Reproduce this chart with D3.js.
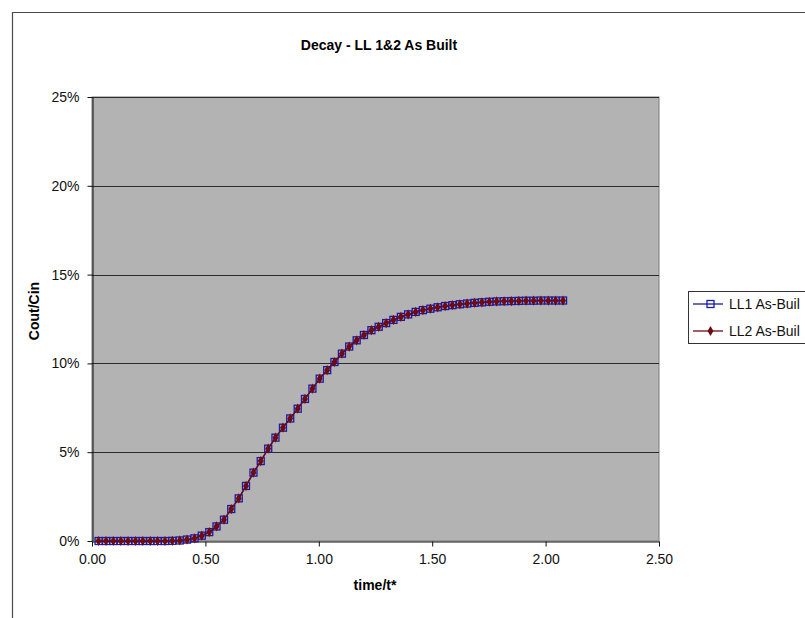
<!DOCTYPE html>
<html>
<head>
<meta charset="utf-8">
<script src="https://cdn.jsdelivr.net/npm/d3@7"></script>
<style>
  body { margin: 0; background: #fff; }
  svg { display: block; font-family: "Liberation Sans", Arial, sans-serif; }
</style>
</head>
<body>
<div class="chart"></div>
<script>
const WIDTH = 805
const HEIGHT = 618
const TITLE = "Decay - LL 1&2 As Built"
const X_LABEL = "time/t*"
const Y_LABEL = "Cout/Cin"
const X_TICKS = [0, 0.5, 1.0, 1.5, 2.0, 2.5]
const Y_TICKS = [0, 0.05, 0.10, 0.15, 0.20, 0.25]
// legend names as they show in the picture (cut at the edge)
const SERIES_NAMES = ["LL1 As-Buil", "LL2 As-Buil"]

// time/t* for every sample
const TIME = [0.029, 0.062, 0.094, 0.127, 0.159, 0.192, 0.224, 0.257, 0.289, 0.322,
  0.354, 0.387, 0.419, 0.452, 0.484, 0.517, 0.549, 0.582, 0.614, 0.647,
  0.679, 0.712, 0.744, 0.777, 0.809, 0.842, 0.874, 0.907, 0.939, 0.972,
  1.004, 1.037, 1.069, 1.102, 1.134, 1.167, 1.199, 1.232, 1.264, 1.297,
  1.329, 1.362, 1.394, 1.427, 1.459, 1.492, 1.524, 1.557, 1.589, 1.622,
  1.654, 1.687, 1.719, 1.752, 1.784, 1.817, 1.849, 1.882, 1.914, 1.947,
  1.979, 2.012, 2.044, 2.077]

// Cout/Cin in percent
const LL1 = [0, 0, 0, 0, 0, 0, 0, 0, 0, 0,
  0.01, 0.03, 0.08, 0.15, 0.30, 0.50, 0.82, 1.20, 1.80, 2.40,
  3.10, 3.85, 4.50, 5.20, 5.82, 6.38, 6.90, 7.45, 8.00, 8.58,
  9.14, 9.62, 10.08, 10.55, 10.95, 11.30, 11.60, 11.87, 12.06, 12.27,
  12.45, 12.62, 12.76, 12.90, 13.00, 13.08, 13.16, 13.23, 13.28, 13.33,
  13.37, 13.41, 13.44, 13.47, 13.49, 13.50, 13.51, 13.52, 13.53, 13.53,
  13.54, 13.54, 13.54, 13.54]
const LL2 = [0, 0, 0, 0, 0, 0, 0, 0, 0, 0,
  0.01, 0.03, 0.08, 0.15, 0.30, 0.50, 0.82, 1.20, 1.80, 2.40,
  3.10, 3.85, 4.50, 5.20, 5.82, 6.38, 6.90, 7.45, 8.00, 8.58,
  9.14, 9.62, 10.08, 10.55, 10.95, 11.30, 11.60, 11.87, 12.06, 12.27,
  12.45, 12.62, 12.76, 12.90, 13.00, 13.08, 13.16, 13.23, 13.28, 13.33,
  13.37, 13.41, 13.44, 13.47, 13.49, 13.50, 13.51, 13.52, 13.53, 13.53,
  13.54, 13.54, 13.54, 13.54]

const PLOT = { left: 92, right: 659, top: 97, bottom: 541 }
const BLUE = "#1a1aa8"
const RED = "#6e0a14"

const svg = d3.select(".chart").append("svg").attr("width", WIDTH).attr("height", HEIGHT)

// chart frame
svg.append("path").attr("d", `M12.5,${HEIGHT} V12.5 H${WIDTH}`)
  .attr("fill", "none").attr("stroke", "#4a4a4a").attr("stroke-width", 1.2)

// title
svg.append("text").attr("x", 379).attr("y", 50).attr("text-anchor", "middle")
  .attr("font-size", 14).attr("font-weight", "bold").text(TITLE)

let xScale = d3.scaleLinear().domain([0, 2.5]).range([PLOT.left, PLOT.right])
let yScale = d3.scaleLinear().domain([0, 0.25]).range([PLOT.bottom, PLOT.top])

// plot area
svg.append("rect").attr("x", PLOT.left).attr("y", PLOT.top)
  .attr("width", PLOT.right - PLOT.left).attr("height", PLOT.bottom - PLOT.top)
  .attr("fill", "#b3b3b3").attr("stroke", "#7a7a7a")

// gridlines
svg.append("g").selectAll("line").data(Y_TICKS.slice(1)).join("line")
  .attr("x1", PLOT.left).attr("x2", PLOT.right)
  .attr("y1", d => Math.round(yScale(d)) + 0.5).attr("y2", d => Math.round(yScale(d)) + 0.5)
  .attr("stroke", "#2b2b2b")

// x axis
let bottomAxis = d3.axisBottom(xScale).tickValues(X_TICKS).tickFormat(d3.format(".2f")).tickSize(5).tickSizeOuter(0)
let xAxis = svg.append("g").attr("transform", `translate(0, ${PLOT.bottom + 0.5})`).call(bottomAxis)
xAxis.selectAll("text").attr("font-size", 14).attr("dy", "1.05em").attr("fill", "#111")

// y axis
let leftAxis = d3.axisLeft(yScale).tickValues(Y_TICKS).tickFormat(d3.format(".0%")).tickSize(5).tickSizeOuter(0)
let yAxis = svg.append("g").attr("transform", `translate(${PLOT.left + 0.5}, 0)`).call(leftAxis)
yAxis.selectAll("text").attr("font-size", 14).attr("x", -13).attr("fill", "#111")

svg.selectAll(".domain, .tick line").attr("stroke", "#111")
svg.selectAll(".tick text").attr("font-family", "'Liberation Sans', Arial, sans-serif")

// axis titles
svg.append("text").attr("x", 375).attr("y", 590).attr("text-anchor", "middle")
  .attr("font-size", 14).attr("font-weight", "bold").text(X_LABEL)
svg.append("text").attr("transform", `translate(39, 311) rotate(-90)`).attr("text-anchor", "middle")
  .attr("font-size", 14).attr("font-weight", "bold").text(Y_LABEL)

// series
let line = d3.line().x(d => xScale(d[0])).y(d => yScale(d[1] / 100))
let ll1 = TIME.map((t, i) => [t, LL1[i]])
let ll2 = TIME.map((t, i) => [t, LL2[i]])

svg.append("path").datum(ll1).attr("d", line).attr("fill", "none").attr("stroke", BLUE).attr("stroke-width", 1.3)
svg.append("g").selectAll("rect").data(ll1).join("rect")
  .attr("x", d => xScale(d[0]) - 3.5).attr("y", d => yScale(d[1] / 100) - 3.5)
  .attr("width", 7).attr("height", 7).attr("fill", "none").attr("stroke", BLUE).attr("stroke-width", 1.3)

let diamond = d3.symbol().type(d3.symbolDiamond).size(30)
svg.append("path").datum(ll2).attr("d", line).attr("fill", "none").attr("stroke", RED).attr("stroke-width", 1.3)
svg.append("g").selectAll("path").data(ll2).join("path")
  .attr("transform", d => `translate(${xScale(d[0])}, ${yScale(d[1] / 100)})`)
  .attr("d", diamond).attr("fill", RED)

// legend
let legend = svg.append("g")
legend.append("rect").attr("x", 688.5).attr("y", 291.5).attr("width", 130).attr("height", 52)
  .attr("fill", "#fff").attr("stroke", "#333")
let rows = [[SERIES_NAMES[0], BLUE, 304], [SERIES_NAMES[1], RED, 331]]
for (let [name, color, y] of rows) {
  legend.append("line").attr("x1", 693).attr("x2", 723).attr("y1", y).attr("y2", y)
    .attr("stroke", color).attr("stroke-width", 1.3)
  if (color === BLUE) {
    legend.append("rect").attr("x", 707).attr("y", y - 3.5).attr("width", 7).attr("height", 7)
      .attr("fill", "none").attr("stroke", BLUE).attr("stroke-width", 1.3)
  } else {
    legend.append("path").attr("transform", `translate(710.5, ${y})`).attr("d", diamond).attr("fill", RED)
  }
  legend.append("text").attr("x", 729).attr("y", y).attr("dy", "0.35em")
    .attr("font-size", 14).attr("fill", "#111").text(name)
}
</script>
</body>
</html>
